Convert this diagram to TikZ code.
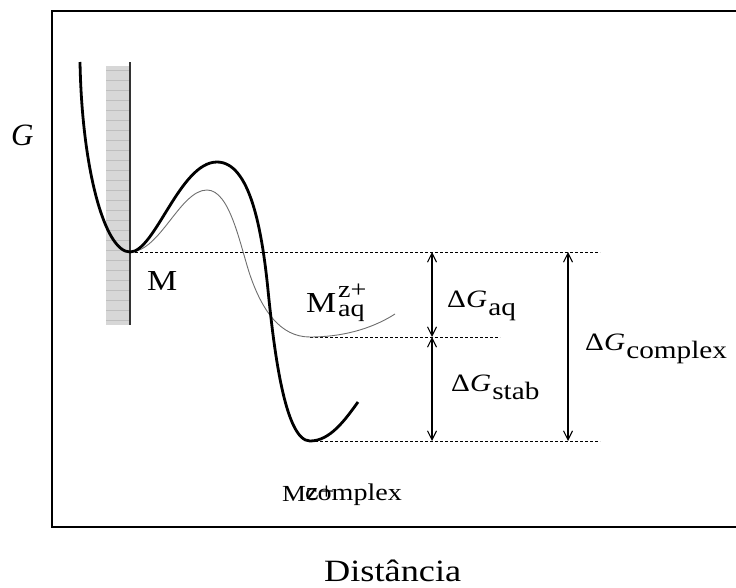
\documentclass[tikz,border=0pt]{standalone}
\usepackage{fontspec}
\setmainfont{Liberation Serif}
\usepackage{graphicx}
\usepackage{tikz}
\usetikzlibrary{arrows.meta, positioning, calc}
\definecolor{wallgray}{RGB}{215,215,215}
\definecolor{hatchgray}{RGB}{190,190,190}
\definecolor{thingray}{RGB}{110,110,110}

% the texts of the figure are a little wider than plain Times
\newcommand{\wide}[1]{\scalebox{1.17}[1]{#1}}
% Delta G with a lowered subscript
\newcommand{\dG}[1]{\wide{Δ{\itshape G}\kern1pt\raisebox{-8pt}{#1}}}

\begin{document}
\begin{tikzpicture}[x=1pt, y=-1pt,
    lbl/.style={inner sep=0pt, anchor=base west, font=\fontsize{25}{25}\selectfont},
    level/.style={densely dashed, line width=1pt},
    gap/.style={{Straight Barb[length=9pt,width=9pt]}-{Straight Barb[length=9pt,width=9pt]}, line width=1.1pt},
    thickcurve/.style={line width=2.8pt},
    thincurve/.style={thingray, line width=0.9pt}]
  \useasboundingbox (0,0) rectangle (736,587);
  % frame
  \draw[line width=2pt] (737,11) -- (52,11) -- (52,527) -- (737,527);
  % wall
  \fill[wallgray] (106,66) rectangle (130,325);
  \foreach \y in {70,80,...,320}
    \draw[hatchgray, line width=0.8pt] (106,\y) -- (130,\y);
  \draw[line width=1.6pt, black!80] (130,62) -- (130,325);
  % energy levels
  \coordinate (minM) at (130,252);
  \coordinate (minAq) at (310,337);
  \coordinate (minCx) at (310,441);
  \coordinate (endM) at (600,252);
  \coordinate (endAq) at (500,337);
  \coordinate (endCx) at (600,441);
  \draw[level] (minM) -- (endM);
  \draw[level] (minAq) -- (endAq);
  \draw[level] (minCx) -- (endCx);
  % free energy curves
  \draw[thincurve] (minM) .. controls (160,252) and (180,190) .. (207,190)
    .. controls (230,190) and (240,245) .. (250,275)
    .. controls (262,310) and (280,337) .. (minAq)
    .. controls (340,337) and (370,330) .. (395,314);
  \draw[thickcurve] (80,62) .. controls (82,170) and (105,252) .. (minM)
    .. controls (155,252) and (180,162) .. (217,162)
    .. controls (250,162) and (262,230) .. (268,290)
    .. controls (274,350) and (285,441) .. (minCx)
    .. controls (330,441) and (345,420) .. (358,402);
  % gaps
  \coordinate (aqTop) at (432,252);
  \coordinate (aqBot) at (432,337);
  \coordinate (stBot) at (432,441);
  \coordinate (cxTop) at (568,252);
  \coordinate (cxBot) at (568,441);
  \draw[gap] (aqTop) -- (aqBot);
  \draw[gap] (aqBot) -- (stBot);
  \draw[gap] (cxTop) -- (cxBot);
  % labels
  \node[lbl] (dGaq) at (447,307) {\dG{aq}};
  \node[lbl] (dGstab) at (451,391) {\dG{stab}};
  \node[lbl] (dGcx) at (585,350) {\dG{complex}};
  \node[lbl, font=\fontsize{29}{29}\selectfont] (Mlbl) at (147,290) {\wide{M}};
  \node[lbl, font=\fontsize{29}{29}\selectfont] (Maq) at (306,312) {\wide{M}};
  \node[lbl, font=\fontsize{24}{24}\selectfont] (Maqsup) at (338,297) {\wide{z+}};
  \node[lbl, font=\fontsize{24}{24}\selectfont] (Maqsub) at (338,316) {\wide{aq}};
  \node[lbl, font=\fontsize{23}{23}\selectfont] (Mcx) at (282,501) {\wide{M}};
  \node[lbl, font=\fontsize{24}{24}\selectfont] (Mcxsub) at (305,500) {\wide{complex}};
  \node[lbl, font=\fontsize{24}{24}\selectfont] (Mcxsup) at (306,499) {\wide{z+}};
  \node[lbl, font=\fontsize{31}{31}\selectfont\itshape] (Glbl) at (11,145) {G};
  \node[lbl, font=\fontsize{31}{31}\selectfont] (dist) at (324,581) {\wide{Distância}};
\end{tikzpicture}
\end{document}
